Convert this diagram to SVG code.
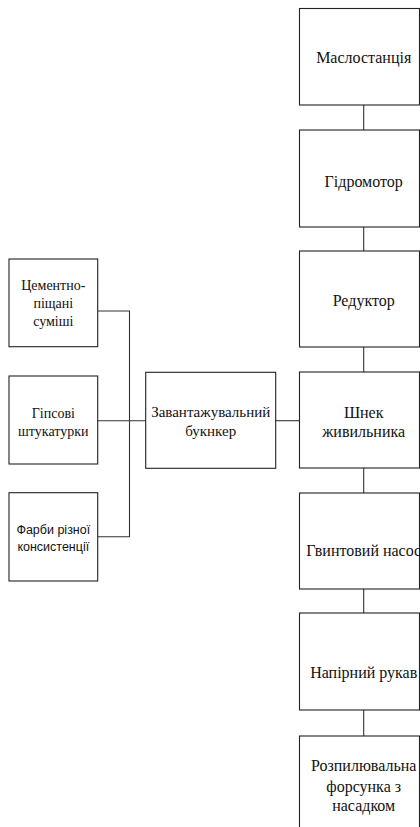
<svg xmlns="http://www.w3.org/2000/svg" width="420" height="827" viewBox="0 0 420 827">
<style>
.box{fill:#fff;stroke:#222;stroke-width:1.1}
.ln{fill:none;stroke:#333;stroke-width:1.1}
.t{font-family:"Liberation Serif","Times New Roman",serif;font-size:16px;fill:#111;text-anchor:middle}
.tm{font-family:"Liberation Serif","Times New Roman",serif;font-size:15px;fill:#111;text-anchor:middle}
.ts{font-family:"Liberation Serif","Times New Roman",serif;font-size:14px;fill:#111;text-anchor:middle}
.tc{font-family:"Liberation Sans",Arial,sans-serif;font-size:12.5px;fill:#111;text-anchor:middle}
</style>
<rect width="420" height="827" fill="#fff"/>
<g id="connectors">
<line class="ln" x1="363.7" y1="105" x2="363.7" y2="130"/>
<line class="ln" x1="363.7" y1="227" x2="363.7" y2="251"/>
<line class="ln" x1="363.7" y1="347" x2="363.7" y2="372"/>
<line class="ln" x1="363.7" y1="468" x2="363.7" y2="493"/>
<line class="ln" x1="363.7" y1="589" x2="363.7" y2="613"/>
<line class="ln" x1="363.7" y1="710" x2="363.7" y2="736"/>
<polyline class="ln" points="97.7,311 129.5,311 129.5,536.7 97.7,536.7"/>
<line class="ln" x1="97.7" y1="420.7" x2="145.7" y2="420.7"/>
<line class="ln" x1="275.7" y1="420.7" x2="299.5" y2="420.7"/>
</g>
<g id="n1"><rect class="box" x="299.5" y="8.5" width="120" height="96.5"/><text class="t" x="363.7" y="62.5">Маслостанція</text></g>
<g id="n2"><rect class="box" x="299.5" y="130" width="120" height="97"/><text class="t" x="363.7" y="186.5">Гідромотор</text></g>
<g id="n3"><rect class="box" x="299.5" y="251" width="120" height="96"/><text class="t" x="363.7" y="305.5">Редуктор</text></g>
<g id="n4"><rect class="box" x="299.5" y="372" width="120" height="96"/><text class="t" x="363.7" y="417.5">Шнек</text><text class="t" x="363.7" y="436.5">живильника</text></g>
<g id="n5"><rect class="box" x="299.5" y="493" width="120" height="96"/><text class="t" x="363.7" y="556">Гвинтовий насос</text></g>
<g id="n6"><rect class="box" x="299.5" y="613" width="120" height="97"/><text class="t" x="363.7" y="677.5">Напірний рукав</text></g>
<g id="n7"><rect class="box" x="299.5" y="736" width="120" height="97"/><text class="t" x="363.7" y="771">Розпилювальна</text><text class="t" x="363.7" y="791.5">форсунка з</text><text class="t" x="363.7" y="810.5">насадком</text></g>
<g id="a"><rect class="box" x="9" y="259" width="88.7" height="87.7"/><text class="ts" x="53.3" y="289.5">Цементно-</text><text class="ts" x="53.3" y="307.5">піщані</text><text class="ts" x="53.3" y="325.5">суміші</text></g>
<g id="b"><rect class="box" x="9" y="376" width="88.7" height="88"/><text class="ts" x="53.3" y="418">Гіпсові</text><text class="ts" x="53.3" y="436">штукатурки</text></g>
<g id="c"><rect class="box" x="9" y="492.7" width="88.7" height="88.3"/><text class="tc" x="53.3" y="534">Фарби різної</text><text class="tc" x="53.3" y="551">консистенції</text></g>
<g id="m"><rect class="box" x="145.7" y="372.3" width="130" height="96"/><text class="tm" x="210.7" y="416.5">Завантажувальний</text><text class="tm" x="210.7" y="435.5">букнкер</text></g>
</svg>
